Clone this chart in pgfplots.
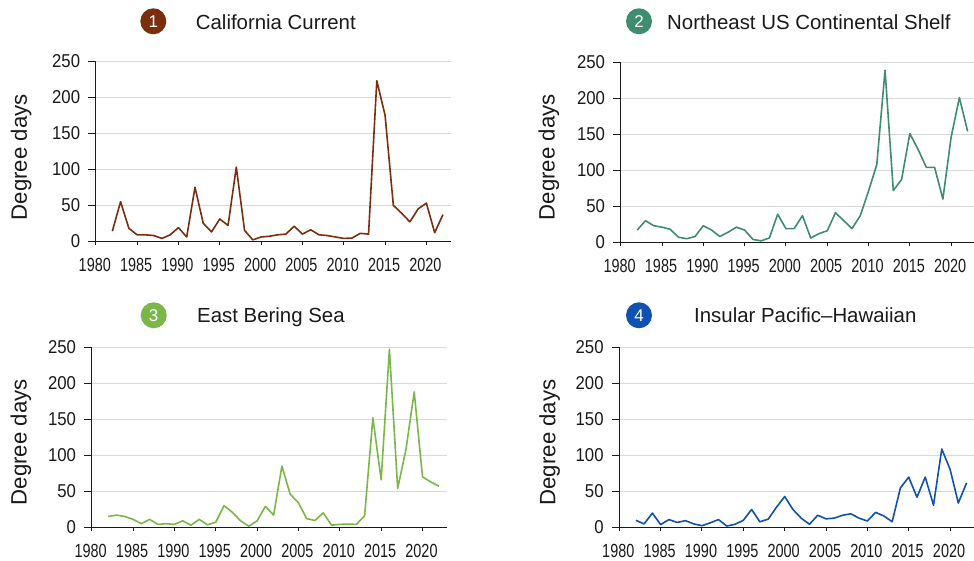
\documentclass[border=0pt]{standalone}
\usepackage{fontspec}
\setmainfont{Liberation Sans}
\newfontfamily\xtickfont[FakeStretch=0.76]{Liberation Sans}
\newfontfamily\ytickfont[FakeStretch=0.9]{Liberation Sans}
\usepackage{pgfplots}
\pgfplotsset{compat=1.18}
\definecolor{cone}{HTML}{7A2E0E}
\definecolor{ctwo}{HTML}{3F8C70}
\definecolor{cthree}{HTML}{7AB648}
\definecolor{cfour}{HTML}{0F52B0}
\definecolor{txt}{HTML}{1A1A1A}
\pgfplotsset{
  base/.style={
    scale only axis, width=#1, height=180pt,
    anchor=origin,
    xmin=1980, ymin=0, ymax=250,
    axis x line*=bottom, axis y line*=left,
    axis line style={txt, line width=1.2pt, -},
    tick align=outside,
    clip=false,
  },
  panel/.style={
    base=#1,
    major tick length=3.5pt,
    xtick={1980,1985,...,2020}, ytick={0,50,...,250},
    ymajorgrids, grid style={draw=black!15, line width=1.2pt},
    xtick style={txt, line width=1pt},
    ytick style={draw=none},
    /pgf/number format/assume math mode=true,
    /pgf/number format/1000 sep={},
    xticklabel style={font=\xtickfont\fontsize{19pt}{20pt}\selectfont, text=txt, inner sep=0pt, yshift=-13pt, xshift=-1pt},
    yticklabel style={font=\ytickfont\fontsize{18.6pt}{20pt}\selectfont, text=txt, inner sep=0pt, xshift=-12pt},
    ylabel={Degree days},
  },
  yticksonly/.style={
    base=#1,
    major tick length=7.5pt,
    xtick=\empty, ytick={0,50,...,250}, yticklabels={},
    ytick style={txt, line width=1pt},
  },
  ylab/.style 2 args={
    ylabel style={font=\fontsize{22.2pt}{24pt}\selectfont, text=txt, at={(rel axis cs:0,0.5)}, anchor=base, xshift=-#2, yshift=#1},
  },
  ser/.style={line width=1.6pt, no markers, #1, line join=round},
}
\newcommand{\badge}[4]{%
  \node[circle, fill=#3, minimum size=26pt, inner sep=0pt, text=white, font=\fontsize{17pt}{20pt}\selectfont] at (#1pt,#2pt) {#4};
}
\newcommand{\ttl}[3]{\node[anchor=base west, inner sep=0pt, text=txt, font=\fontsize{20.4pt}{24pt}\selectfont] at (#1pt,#2pt) {#3};}
\begin{document}
\begin{tikzpicture}[x=1pt,y=1pt]
\useasboundingbox (0,0) rectangle (974,561);
\fill[white] (0,0) rectangle (974,561);

\begin{axis}[panel=355.4pt, at={(95.8pt,319.7pt)}, xmax=2023, ylab={69pt}{6pt}]
\addplot[ser=cone] coordinates {(1982,14)(1983,55)(1984,18)(1985,9)(1986,9)(1987,8)(1988,4)(1989,9)(1990,19)(1991,6)(1992,75)(1993,25)(1994,13)(1995,31)(1996,22)(1997,103)(1998,15)(1999,2)(2000,6)(2001,7)(2002,9)(2003,10)(2004,21)(2005,10)(2006,16)(2007,9)(2008,8)(2009,6)(2010,4)(2011,4.5)(2012,11)(2013,10)(2014,223)(2015,175)(2016,50)(2017,39)(2018,27)(2019,45)(2020,53)(2021,12)(2022,37)};
\end{axis}
\begin{axis}[yticksonly=355.4pt, at={(95.8pt,319.7pt)}, xmax=2023]
\end{axis}

\begin{axis}[panel=353.3pt, at={(620.7pt,318.7pt)}, xmax=2022.77, ylab={66pt}{5pt}]
\addplot[ser=ctwo] coordinates {(1982,17)(1983,30)(1984,23)(1985,21)(1986,18)(1987,7)(1988,5)(1989,8)(1990,23)(1991,17)(1992,8)(1993,14)(1994,21)(1995,17)(1996,4)(1997,2)(1998,6)(1999,39)(2000,19)(2001,19)(2002,37)(2003,6)(2004,12)(2005,16)(2006,41)(2007,30)(2008,19)(2009,37)(2010,71)(2011,108)(2012,239)(2013,72)(2014,87)(2015,151)(2016,129)(2017,104)(2018,104)(2019,60)(2020,146)(2021,201)(2022,154)};
\end{axis}
\begin{axis}[yticksonly=353.3pt, at={(620.7pt,318.7pt)}, xmax=2022.77]
\end{axis}

\begin{axis}[panel=355.6pt, at={(91.7pt,33.7pt)}, xmax=2023, ylab={65pt}{5pt}]
\addplot[ser=cthree] coordinates {(1982,15)(1983,17)(1984,15)(1985,11)(1986,5)(1987,11)(1988,4)(1989,5)(1990,4)(1991,9)(1992,3)(1993,11)(1994,3.5)(1995,7)(1996,30)(1997,21)(1998,9)(1999,1.5)(2000,9)(2001,29)(2002,17)(2003,85)(2004,46)(2005,34)(2006,12)(2007,9.5)(2008,20)(2009,3)(2010,4)(2011,4.5)(2012,4)(2013,16)(2014,152)(2015,66)(2016,247)(2017,54)(2018,108)(2019,188)(2020,70)(2021,63)(2022,57)};
\end{axis}
\begin{axis}[yticksonly=355.6pt, at={(91.7pt,33.7pt)}, xmax=2023]
\end{axis}

\begin{axis}[panel=354.7pt, at={(619.3pt,33.5pt)}, xmax=2022.9, ylab={64pt}{5pt}]
\addplot[ser=cfour] coordinates {(1982,10)(1983,5)(1984,20)(1985,4)(1986,11)(1987,7)(1988,9.5)(1989,5)(1990,2.5)(1991,6.5)(1992,11)(1993,2)(1994,4.5)(1995,10)(1996,25)(1997,8)(1998,11.5)(1999,28)(2000,43)(2001,25)(2002,13)(2003,4.5)(2004,17)(2005,12)(2006,13)(2007,17)(2008,19)(2009,13)(2010,9)(2011,21)(2012,16)(2013,8)(2014,55)(2015,70)(2016,42)(2017,70)(2018,31)(2019,109)(2020,81)(2021,34)(2022,62)};
\end{axis}
\begin{axis}[yticksonly=354.7pt, at={(619.3pt,33.5pt)}, xmax=2022.9]
\end{axis}

\badge{153.3}{539.7}{cone}{1}
\badge{639}{539.7}{ctwo}{2}
\badge{153.7}{245.7}{cthree}{3}
\badge{639}{245.7}{cfour}{4}
\ttl{195.7}{531}{California Current}
\ttl{667}{531}{Northeast US Continental Shelf}
\ttl{197}{238}{East Bering Sea}
\ttl{694}{238}{Insular Pacific--Hawaiian}
\end{tikzpicture}
\end{document}
